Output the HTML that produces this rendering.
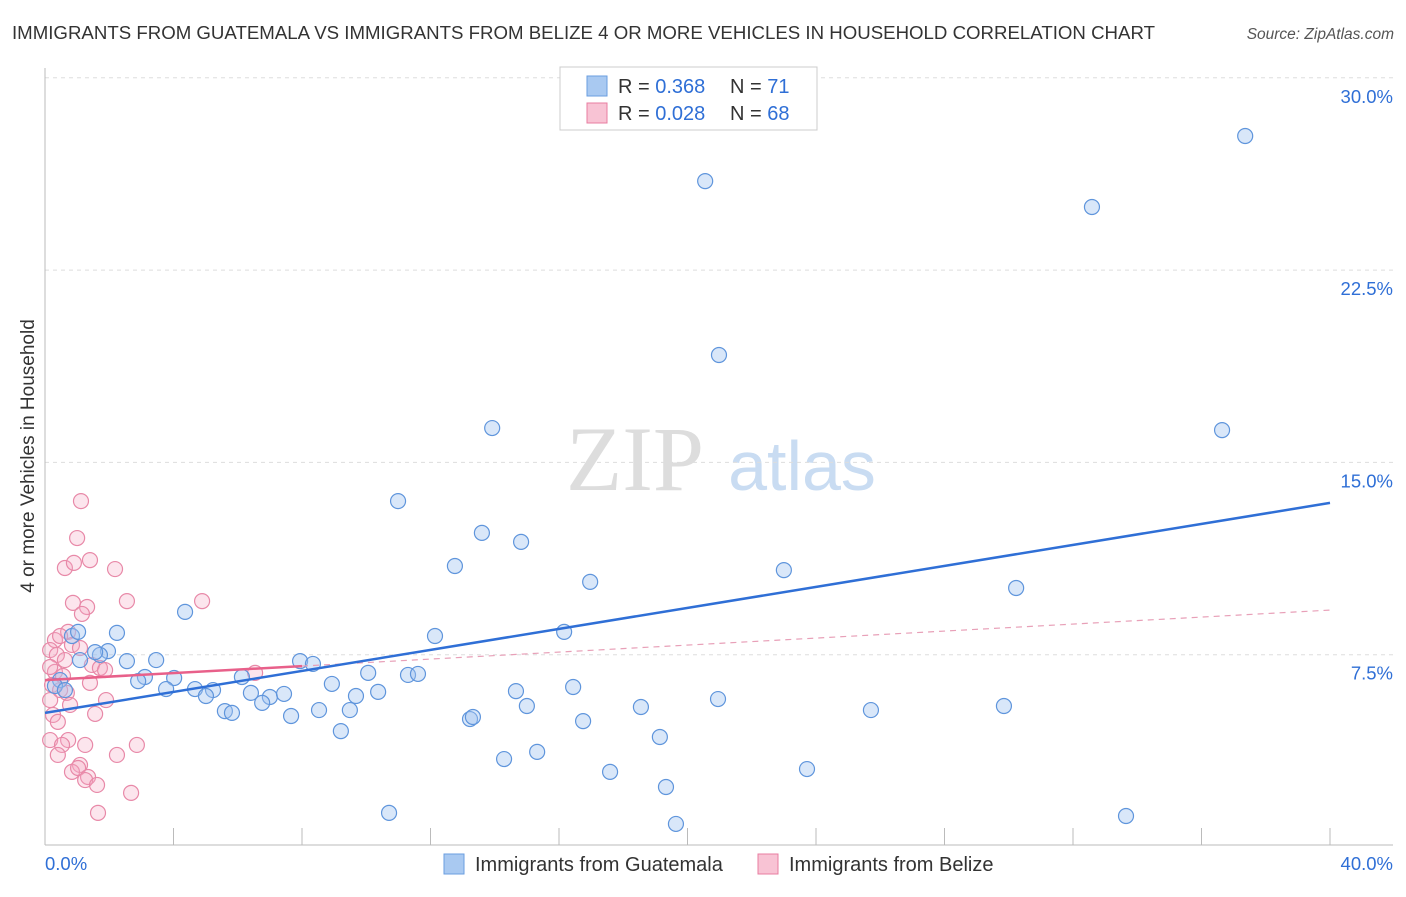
<!DOCTYPE html>
<html><head><meta charset="utf-8">
<style>
body{margin:0;background:#fff;font-family:"Liberation Sans",sans-serif;}
svg text{font-family:"Liberation Sans",sans-serif;}
</style></head>
<body>
<svg id="chart" width="1406" height="892" viewBox="0 0 1406 892">
<text x="12" y="39" font-size="18.6" fill="#333" textLength="1143" lengthAdjust="spacingAndGlyphs">IMMIGRANTS FROM GUATEMALA VS IMMIGRANTS FROM BELIZE 4 OR MORE VEHICLES IN HOUSEHOLD CORRELATION CHART</text>
<text x="1394" y="39" font-size="15.5" fill="#555" font-style="italic" text-anchor="end">Source: ZipAtlas.com</text>
<text x="34" y="456" font-size="19" fill="#333" text-anchor="middle" transform="rotate(-90 34 456)">4 or more Vehicles in Household</text>
<g>
<text x="635" y="490" font-size="92" fill="#ddd" font-family="Liberation Serif" text-anchor="middle" style="font-family:'Liberation Serif',serif">ZIP</text>
<text x="802" y="490" font-size="70" fill="#c9dcf2" text-anchor="middle">atlas</text>
</g>
<g id="grid"></g>
<g id="axes"></g>
<g id="marks"></g>
<g>
<rect x="560" y="67" width="257" height="63" fill="#fff" stroke="#ccc"/>
<rect x="587" y="76" width="20" height="20" fill="#a9c9f1" stroke="#6a9ee0"/>
<rect x="587" y="103" width="20" height="20" fill="#f8c3d4" stroke="#e87da0"/>
<text x="618" y="93" font-size="20" fill="#333">R = <tspan fill="#2f6fd6">0.368</tspan></text>
<text x="730" y="93" font-size="20" fill="#333">N = <tspan fill="#2f6fd6"> 71</tspan></text>
<text x="618" y="120" font-size="20" fill="#333">R = <tspan fill="#2f6fd6">0.028</tspan></text>
<text x="730" y="120" font-size="20" fill="#333">N = <tspan fill="#2f6fd6">68</tspan></text>
</g>
<g>
<rect x="444" y="854" width="20" height="20" fill="#a9c9f1" stroke="#6a9ee0"/>
<text x="475" y="871" font-size="20" fill="#333">Immigrants from Guatemala</text>
<rect x="758" y="854" width="20" height="20" fill="#f8c3d4" stroke="#e87da0"/>
<text x="789" y="871" font-size="20" fill="#333">Immigrants from Belize</text>
</g>
</svg>
<script>
const yTicks=[7.5,15,22.5,30];
const yTickLabels=["7.5%","15.0%","22.5%","30.0%"];
const xTickLabels=["0.0%","40.0%"];
const blueX=[37.36,20.55,32.59,20.98,13.92,36.64,10.99,13.6,14.82,12.76,16.97,23.0,30.23,4.36,16.16,12.14,2.24,1.96,2.55,3.46,7.94,8.34,3.11,4.02,2.9,6.13,10.06,11.3,11.61,8.93,3.77,4.67,5.23,5.01,6.41,7.0,7.44,9.68,10.37,14.66,16.44,20.95,6.76,5.6,5.82,8.53,9.49,15.0,18.55,25.71,29.85,7.66,13.23,13.32,16.75,9.21,19.14,15.32,14.29,17.59,23.72,19.33,10.71,33.65,19.64,0.47,0.31,0.62,1.09,1.71,1.56,0.84,1.03];
const blueY=[27.73,25.97,24.96,19.19,16.34,16.26,13.49,12.25,11.9,10.96,10.34,10.8,10.1,9.17,8.39,8.23,8.35,7.64,7.25,7.29,7.25,7.14,6.63,6.59,6.47,6.63,6.79,6.71,6.75,6.36,6.16,6.16,6.12,5.89,6.01,5.85,5.97,5.89,6.05,6.08,6.24,5.77,5.62,5.3,5.23,5.34,5.34,5.5,5.46,5.34,5.5,5.11,4.99,5.07,4.91,4.52,4.29,3.71,3.43,2.93,3.04,2.34,1.33,1.21,0.9,6.51,6.28,6.12,7.29,7.49,7.6,8.23,8.39];
const pinkX=[1.12,1.0,1.4,2.18,0.62,0.9,2.55,4.89,0.87,1.31,1.15,0.72,0.31,0.47,0.84,0.16,0.37,0.62,1.09,1.46,1.71,1.87,1.4,0.31,0.22,0.47,0.68,1.9,0.16,0.78,0.25,1.56,0.4,0.16,0.72,0.53,1.25,0.4,2.86,2.24,1.09,0.84,1.03,1.34,1.25,1.62,2.68,1.65,6.54,0.16,0.56];
const pinkY=[13.49,12.05,11.19,10.84,10.88,11.08,9.59,9.59,9.52,9.36,9.09,8.39,8.07,8.23,7.88,7.68,7.49,7.29,7.76,7.1,6.98,6.9,6.4,6.83,6.32,6.12,6.01,5.73,5.73,5.54,5.15,5.19,4.88,4.17,4.17,3.98,3.98,3.59,3.98,3.59,3.2,2.93,3.08,2.73,2.61,2.42,2.11,1.33,6.79,7.02,6.67];
const blueTrend=[5.23,13.42];
const pinkTrend=[6.51,9.24];
const pinkSolidEnd=8;

const NS="http://www.w3.org/2000/svg";
const X0=45,X1=1330,YB=847,PPY=192.3/7.5;
function sx(v){return X0+v/40*(X1-X0);}
function sy(v){return YB-v*PPY;}
function mk(tag,attrs,parent){const e=document.createElementNS(NS,tag);for(const k in attrs)e.setAttribute(k,attrs[k]);parent.appendChild(e);return e;}
const grid=document.getElementById('grid'),axes=document.getElementById('axes'),marks=document.getElementById('marks');
yTicks.forEach((t,i)=>{
  const l=mk('line',{x1:45,x2:1393,y1:sy(t),y2:sy(t),stroke:'#ddd','stroke-dasharray':'4,4'},grid);
  
  
  const tx=mk('text',{x:1393,y:sy(t)+25,'font-size':18.5,fill:'#2f6fd6','text-anchor':'end'},axes);
  tx.textContent=yTickLabels[i];
  
  
});
const ax=mk('line',{x1:45,x2:1393,y1:845,y2:845,stroke:'#bbb'},axes);


const ay=mk('line',{x1:45,x2:45,y1:68,y2:845,stroke:'#bbb'},axes);


for(let k=1;k<=10;k++){
  const t=mk('line',{x1:sx(k*4),x2:sx(k*4),y1:828,y2:845,stroke:'#bbb'},axes);
  
  
}
const xl0=mk('text',{x:45,y:870,'font-size':18.5,fill:'#2f6fd6'},axes);xl0.textContent=xTickLabels[0];


const xl1=mk('text',{x:1393,y:870,'font-size':18.5,fill:'#2f6fd6','text-anchor':'end'},axes);xl1.textContent=xTickLabels[1];



pinkX.forEach((v,i)=>{
  const c=mk('circle',{cx:sx(v),cy:sy(pinkY[i]),r:7.5,fill:'rgba(244,170,196,0.3)',stroke:'#e889a8','stroke-width':1.2},marks);
  
  
});
blueX.forEach((v,i)=>{
  const c=mk('circle',{cx:sx(v),cy:sy(blueY[i]),r:7.5,fill:'rgba(160,196,240,0.4)',stroke:'#5f95dc','stroke-width':1.2},marks);
  
  
});
function py(x){return pinkTrend[0]+(pinkTrend[1]-pinkTrend[0])*x/40;}
const pd=mk('line',{x1:sx(pinkSolidEnd),y1:sy(py(pinkSolidEnd)),x2:sx(40),y2:sy(pinkTrend[1]),stroke:'#e8a0b8','stroke-width':1.2,'stroke-dasharray':'6,5'},marks);


const ps=mk('line',{x1:sx(0),y1:sy(pinkTrend[0]),x2:sx(pinkSolidEnd),y2:sy(py(pinkSolidEnd)),stroke:'#e8608a','stroke-width':2.5},marks);


const bt=mk('line',{x1:sx(0),y1:sy(blueTrend[0]),x2:sx(40),y2:sy(blueTrend[1]),stroke:'#2f6fd6','stroke-width':2.5},marks);


</script>
</body></html>
